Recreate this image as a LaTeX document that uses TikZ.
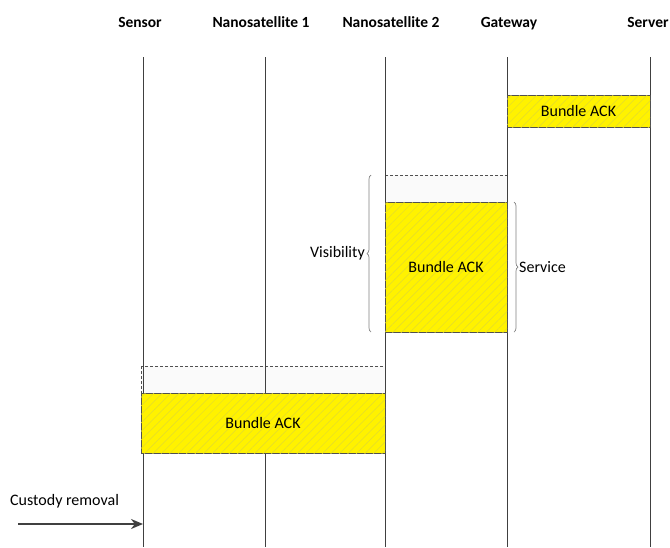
\documentclass[tikz,border=0pt]{standalone}
\usepackage{fontspec}
\setmainfont{Carlito}
\usetikzlibrary{patterns.meta,decorations.pathreplacing,arrows.meta}
\definecolor{lifegray}{HTML}{404040}
\definecolor{boxgray}{HTML}{505050}
\definecolor{hatch}{HTML}{E2DA30}
\tikzset{
  head/.style={font=\bfseries\fontsize{15.5}{18}\selectfont, anchor=base},
  life/.style={draw=lifegray, line width=1pt},
  ack/.style={draw=boxgray, line width=0.8pt, fill=yellow,
    postaction={pattern={Lines[angle=45,distance=6pt,line width=0.5pt]}, pattern color=hatch},
    font=\fontsize{16}{18}\selectfont, inner sep=0pt},
  wait/.style={draw=boxgray, line width=1pt, dash pattern=on 3pt off 2pt, fill=black!2},
  brc/.style={draw=gray, line width=0.7pt, decorate, decoration={brace, amplitude=4pt}},
  lbl/.style={font=\fontsize{16}{18}\selectfont, inner sep=1pt}
}
\begin{document}
\begin{tikzpicture}[x=1pt,y=-1pt]
\useasboundingbox (0,0) rectangle (670,547);

% participant headers
\node[head] (sensor) at (140,27) {Sensor};
\node[head] (nano1) at (261,27) {Nanosatellite 1};
\node[head] (nano2) at (391,27) {Nanosatellite 2};
\node[head] (gw) at (509,27) {Gateway};
\node[head] (srv) at (648,27) {Server};

% lifeline end points
\coordinate (sT) at (143,57);  \coordinate (sB) at (143,547);
\coordinate (n1T) at (265,57); \coordinate (n1B) at (265,547);
\coordinate (n2T) at (385,57); \coordinate (n2B) at (385,547);
\coordinate (gT) at (507,57);  \coordinate (gB) at (507,547);
\coordinate (vT) at (650,57);  \coordinate (vB) at (650,547);

% waiting slots (dashed)
\draw[wait] (385,175) rectangle (507,202);
\draw[wait] (141,366) rectangle (385,393);

% lifelines
\draw[life] (sT) -- (sB);
\draw[life] (n1T) -- (n1B);
\draw[life] (n2T) -- (n2B);
\draw[life] (gT) -- (gB);
\draw[life] (vT) -- (vB);

% bundle acknowledgements
\node[ack, minimum width=143pt, minimum height=32pt] (ackgs) at (578.5,111) {Bundle ACK};
\node[ack, minimum width=122pt, minimum height=130pt] (ackn2) at (446,267) {Bundle ACK};
\node[ack, minimum width=244pt, minimum height=60pt] (ackn1) at (263,423) {Bundle ACK};

% visibility and service windows
\draw[brc] (371,332) -- (371,175);
\node[lbl, anchor=east] (vis) at (366,253) {Visibility};
\draw[brc] (514,202) -- (514,332);
\node[lbl, anchor=west] (svc) at (518,267) {Service};

% custody removal
\node[lbl, anchor=south west] (cust) at (9,509) {Custody removal};
\coordinate (custStart) at (18,524);
\draw[draw=lifegray, line width=2.2pt, -{Stealth[length=12pt,width=10pt]}] (custStart) -- (custStart -| sT);
\end{tikzpicture}
\end{document}
